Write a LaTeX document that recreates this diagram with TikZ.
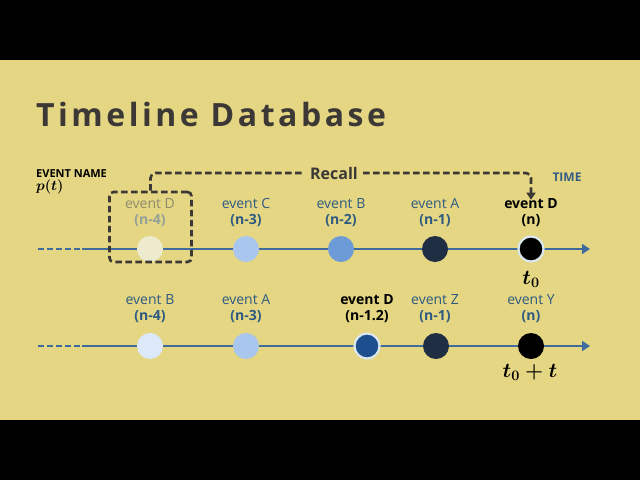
\documentclass[tikz,border=0pt]{standalone}
\usepackage{fontspec,tikz}
\usetikzlibrary{arrows.meta}
\setmainfont{Open Sans}
\newfontfamily\titlefont[LetterSpace=11]{Open Sans}
\definecolor{bgyellow}{HTML}{E4D682}
\definecolor{inkgray}{HTML}{3B3835}
\definecolor{lineblue}{HTML}{3F6C9C}
\definecolor{textblue}{HTML}{2E5A82}
\definecolor{fadetext}{HTML}{8F8B6C}
\definecolor{fadesub}{HTML}{94A09A}
\definecolor{dotfade}{HTML}{EDEACE}
\definecolor{dotpale}{HTML}{DCE9FB}
\definecolor{dotlight}{HTML}{A9C6EF}
\definecolor{dotmid}{HTML}{6D9BD8}
\definecolor{dotdeep}{HTML}{1D4F8E}
\definecolor{dotnavy}{HTML}{1F2E42}
\definecolor{ringpale}{HTML}{DCE8F0}
\tikzset{
  dot/.style={circle,inner sep=0pt,minimum size=26pt},
  ringdot/.style={dot,draw=ringpale,line width=2.2pt,minimum size=25pt},
  timeline/.style={draw=lineblue,line width=2.6pt},
  evlabel/.style={align=center,inner sep=0pt,font=\fontsize{14}{16}\selectfont,text=textblue},
  recallline/.style={draw=inkgray,line width=2.6pt,dash pattern=on 6.5pt off 3.5pt}
}
\begin{document}
\begin{tikzpicture}[x=1pt,y=-1pt]
\path[use as bounding box,fill=black] (0,0) rectangle (640,480);
\fill[bgyellow] (0,60) rectangle (640,420);
\node[anchor=base west,inner sep=0pt,text=inkgray,font=\titlefont\fontsize{32}{38}\selectfont\bfseries] (title) at (36,126) {Timeline Database};
\node[anchor=base west,inner sep=0pt,font=\fontsize{11}{13}\selectfont\bfseries] (evname) at (36,177) {EVENT NAME};
\node[anchor=west,inner sep=0pt,font=\fontsize{15}{17}\selectfont] (prob) at (36,187) {{\boldmath$p(t)$}};
\node[anchor=base,inner sep=0pt,text=lineblue!85!black,font=\fontsize{12}{14}\selectfont\bfseries] (time) at (567,181) {TIME};
\coordinate (s1) at (38,249);
\coordinate (m1) at (82,249);
\coordinate (e1) at (590,249);
\draw[timeline,dash pattern=on 6pt off 3pt] (s1) -- (m1);
\draw[timeline,-{Triangle[width=10pt,length=8pt]}] (m1) -- (e1);
\coordinate (s2) at (38,346);
\coordinate (m2) at (82,346);
\coordinate (e2) at (590,346);
\draw[timeline,dash pattern=on 6pt off 3pt] (s2) -- (m2);
\draw[timeline,-{Triangle[width=10pt,length=8pt]}] (m2) -- (e2);
\node[dot,fill=dotfade] (a1) at (150,249) {};
\node[dot,fill=dotlight] (a2) at (246,249) {};
\node[dot,fill=dotmid] (a3) at (341,249) {};
\node[dot,fill=dotnavy] (a4) at (435,249) {};
\node[ringdot,fill=black] (a5) at (531,249) {};
\node[dot,fill=dotpale] (b1) at (150,346) {};
\node[dot,fill=dotlight] (b2) at (246,346) {};
\node[ringdot,fill=dotdeep] (b3) at (367,346) {};
\node[dot,fill=dotnavy] (b4) at (436,346) {};
\node[dot,fill=black] (b5) at (531,346) {};
\node[evlabel,text=fadetext] (la1) at (150,213) {event D\\\textcolor{fadesub}{\bfseries(n-4)}};
\node[evlabel] (la2) at (246,213) {event C\\\bfseries(n-3)};
\node[evlabel] (la3) at (341,213) {event B\\\bfseries(n-2)};
\node[evlabel] (la4) at (435,213) {event A\\\bfseries(n-1)};
\node[evlabel,text=black,font=\fontsize{14}{16}\selectfont\bfseries] (la5) at (531,213) {event D\\(n)};
\node[evlabel] (lb1) at (150,309) {event B\\\bfseries(n-4)};
\node[evlabel] (lb2) at (246,309) {event A\\\bfseries(n-3)};
\node[evlabel,text=black,font=\fontsize{14}{16}\selectfont\bfseries] (lb3) at (367,309) {event D\\(n-1.2)};
\node[evlabel] (lb4) at (435,309) {event Z\\\bfseries(n-1)};
\node[evlabel] (lb5) at (531,309) {event Y\\\bfseries(n)};
\node[inner sep=0pt,font=\fontsize{22}{25}\selectfont] (tzero) at (531,279) {{\boldmath$t_0$}};
\node[inner sep=0pt,font=\fontsize{20}{23}\selectfont] (tzerot) at (530,372) {{\boldmath$t_0+t$}};
\node[draw=inkgray,line width=2.6pt,dash pattern=on 6.5pt off 3.5pt,rounded corners=4pt,minimum width=82pt,minimum height=70pt] (recallbox) at (150.5,227) {};
\node[inner sep=5pt,text=inkgray,font=\fontsize{16}{19}\selectfont\bfseries] (recall) at (334,173) {Recall};
\draw[recallline,rounded corners=5pt] (recallbox.north) |- (recall.west);
\draw[recallline,rounded corners=5pt,-{Triangle[width=9pt,length=7pt]}] (recall.east) -| ([yshift=-1pt]la5.north);
\end{tikzpicture}
\end{document}
